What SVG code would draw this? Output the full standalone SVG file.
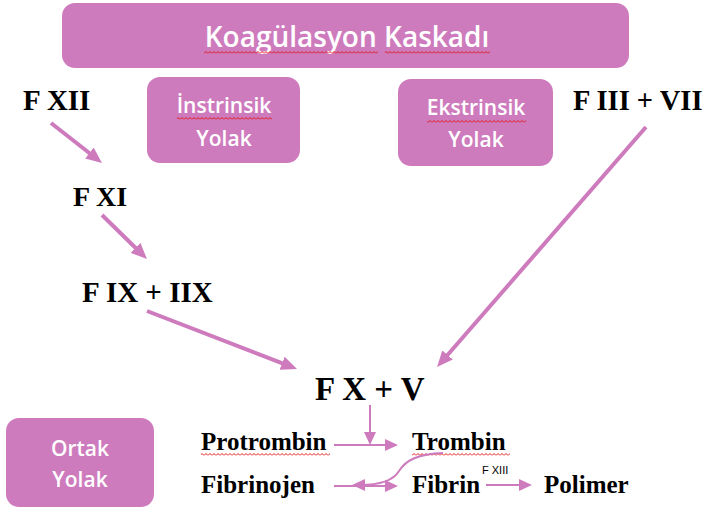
<svg xmlns="http://www.w3.org/2000/svg" width="710" height="513" viewBox="0 0 710 513">
<style>
.box{fill:#CE7BBE;}
.wt{fill:#ffffff;font-family:"Open Sans","Liberation Sans",sans-serif;font-weight:600;text-anchor:middle;}
.bt{fill:#000000;font-family:"Liberation Serif","Times New Roman",serif;font-weight:bold;}
.thick{stroke:#CE7BBE;stroke-width:4;fill:none;marker-end:url(#headL);}
.thin{stroke:#CE7BBE;stroke-width:2;fill:none;marker-end:url(#headS);}
.sq{fill:url(#wave);}
</style>
<defs>
<marker id="headL" markerUnits="userSpaceOnUse" markerWidth="16" markerHeight="14" refX="6" refY="7" orient="auto">
<path d="M0,0 L16,7 L0,14 z" fill="#CE7BBE"/>
</marker>
<marker id="headS" markerUnits="userSpaceOnUse" markerWidth="13" markerHeight="12" refX="5" refY="6" orient="auto">
<path d="M0,0 L13,6 L0,12 z" fill="#CE7BBE"/>
</marker>
<pattern id="wave" patternUnits="userSpaceOnUse" width="4" height="3">
<path d="M0,2.5 L2,0.5 L4,2.5" stroke="#E01818" stroke-width="1" fill="none"/>
</pattern>
</defs>
<rect width="710" height="513" fill="#ffffff"/>

<g id="title">
<rect class="box" x="62" y="3" width="567" height="65" rx="13"/>
<text class="wt" x="347" y="47" font-size="28">Koagülasyon Kaskadı</text>
<rect class="sq" x="204" y="51" width="174" height="3"/>
<rect class="sq" x="385" y="51" width="105" height="3"/>
</g>

<g id="intrinsic">
<rect class="box" x="147" y="77" width="153" height="86" rx="13"/>
<text class="wt" x="224" y="113" font-size="21">İnstrinsik</text>
<text class="wt" x="224" y="146" font-size="21">Yolak</text>
<rect class="sq" x="177" y="117" width="95" height="3"/>
</g>

<g id="extrinsic">
<rect class="box" x="398" y="79" width="155" height="87" rx="13"/>
<text class="wt" x="476" y="115" font-size="21">Ekstrinsik</text>
<text class="wt" x="476" y="147" font-size="21">Yolak</text>
<rect class="sq" x="427" y="120" width="99" height="3"/>
</g>

<g id="common">
<rect class="box" x="6" y="418" width="148" height="89" rx="13"/>
<text class="wt" x="80" y="456" font-size="21">Ortak</text>
<text class="wt" x="80" y="487" font-size="21">Yolak</text>
</g>

<g id="fxii"><text class="bt" x="23" y="110" font-size="29">F XII</text></g>
<g id="fiii"><text class="bt" x="573" y="110" font-size="28.5">F III + VII</text></g>
<g id="fxi"><text class="bt" x="73" y="206" font-size="28">F XI</text></g>
<g id="fix"><text class="bt" x="82" y="302" font-size="29">F IX + IIX</text></g>
<g id="fx"><text class="bt" x="315" y="400" font-size="33">F X + V</text></g>
<g id="protrombin">
<text class="bt" x="201" y="450" font-size="25">Protrombin</text>
<rect class="sq" x="201" y="453" width="129" height="3"/>
</g>
<g id="trombin">
<text class="bt" x="412" y="450" font-size="25">Trombin</text>
<rect class="sq" x="412" y="453" width="98" height="3"/>
</g>
<g id="fibrinojen"><text class="bt" x="201" y="493" font-size="25">Fibrinojen</text></g>
<g id="fibrin"><text class="bt" x="412" y="493" font-size="25">Fibrin</text></g>
<g id="polimer"><text class="bt" x="544" y="493" font-size="25">Polimer</text></g>

<g id="connectors">
<line class="thick" x1="51" y1="123" x2="94.1" y2="156.8"/>
<line class="thick" x1="102" y1="215" x2="139.8" y2="252"/>
<line class="thick" x1="147" y1="311" x2="287.7" y2="365.4"/>
<line class="thick" x1="646" y1="127" x2="443.6" y2="359.5"/>
<line class="thin" x1="370" y1="405" x2="370" y2="437"/>
<line class="thin" x1="334" y1="445" x2="390" y2="445"/>
<line class="thin" x1="334" y1="486" x2="390" y2="486"/>
<path class="thin" d="M443,453 C418,454 406,460 399,471 C393,481 378,485 360,485"/>
<line class="thin" x1="486" y1="485" x2="524" y2="485"/>
<text x="482" y="474" font-size="11" font-family="'Liberation Sans',Arial,sans-serif" fill="#000000">F XIII</text>
</g>
</svg>
